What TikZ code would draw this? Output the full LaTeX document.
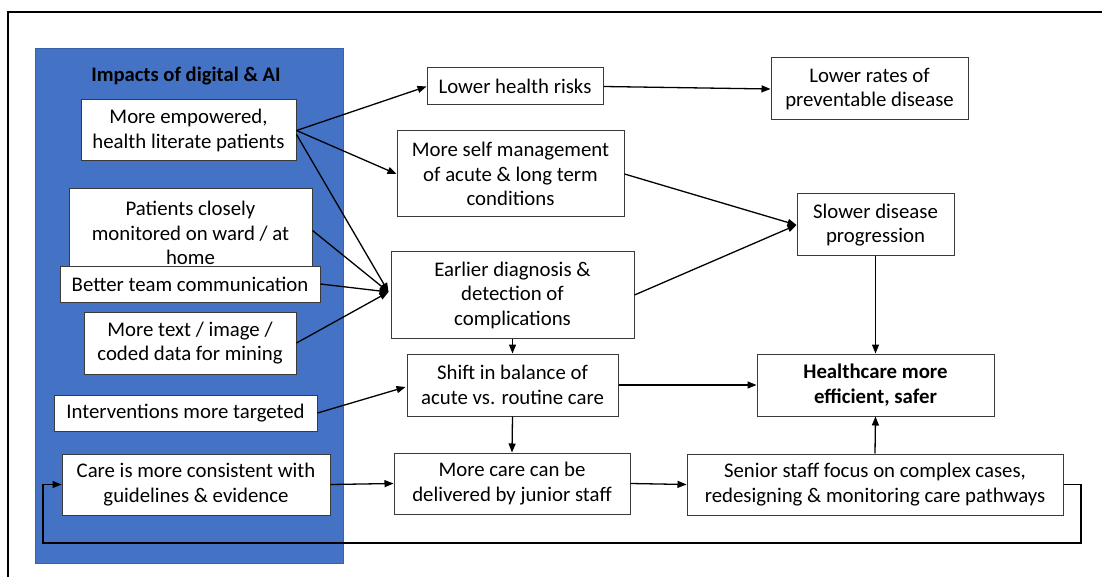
\documentclass[tikz,border=0pt]{standalone}
\usepackage{fontspec}
\setmainfont{Carlito}
\usetikzlibrary{arrows.meta}
\definecolor{panelblue}{HTML}{4472C4}
\definecolor{paneledge}{HTML}{3A62AC}
\definecolor{boxedge}{HTML}{3A3A3A}
\begin{document}
\begin{tikzpicture}[x=1pt,y=-1pt,
  box/.style={draw=boxedge,line width=1pt,fill=white,align=center,inner sep=0pt,
    font=\fontsize{20.8}{24.5}\selectfont},
  conn/.style={line width=1.3pt,-{Triangle[length=9pt,width=7pt]}},
  plain/.style={line width=1.3pt}]
\useasboundingbox (0,0) rectangle (1102,577);
% outer frame
\draw[line width=1.6pt] (8,577) -- (8,12) -- (1102,12);
% blue panel
\node[draw=paneledge,fill=panelblue,line width=1pt,minimum width=308pt,minimum height=514pt,inner sep=0pt] (panel) at (189,306) {};
\node[font=\fontsize{20.6}{24}\selectfont\bfseries] (title) at (186,76) {Impacts of digital \& AI};
% left boxes
\node[box,minimum width=215pt,minimum height=61pt] (b1) at (188.5,130.5) {More empowered,\\health literate patients};
\node[box,minimum width=243pt,minimum height=84pt,anchor=north] (b2) at (190.5,188) {\rule{0pt}{20pt}Patients closely\\monitored on ward / at\\home};
\node[box,minimum width=260pt,minimum height=36pt] (b3) at (190,284) {Better team communication};
\node[box,minimum width=212pt,minimum height=62pt] (b4) at (190,343) {More text / image /\\coded data for mining};
\node[box,minimum width=263pt,minimum height=36pt] (b5) at (185.5,413) {Interventions more targeted};
\node[box,minimum width=268pt,minimum height=61pt] (b6) at (196,484.5) {Care is more consistent with\\guidelines \& evidence};
% middle boxes
\node[box,minimum width=176pt,minimum height=37pt] (lhr) at (515,86.5) {Lower health risks};
\node[box,minimum width=227pt,minimum height=86pt] (sm) at (510.5,174) {More self management\\of acute \& long term\\conditions};
\node[box,minimum width=243pt,minimum height=86pt] (ed) at (512.5,295) {Earlier diagnosis \&\\detection of\\complications};
\node[box,minimum width=211pt,minimum height=62pt] (sh) at (512.5,385) {Shift in balance of\\acute vs. routine care};
\node[box,minimum width=236pt,minimum height=61pt] (jr) at (512,483.5) {More care can be\\delivered by junior staff};
% right boxes
\node[box,minimum width=197pt,minimum height=62pt] (lr) at (869.5,89) {Lower rates of\\preventable disease};
\node[box,minimum width=157pt,minimum height=62pt] (sl) at (875.5,225) {Slower disease\\progression};
\node[box,minimum width=237pt,minimum height=62pt,font=\fontsize{20.8}{24.5}\selectfont\bfseries] (hc) at (875.5,385) {Healthcare more\\efficient, safer};
\node[box,minimum width=376pt,minimum height=61pt] (ss) at (875,484.5) {Senior staff focus on complex cases,\\redesigning \& monitoring care pathways};
% connectors
\coordinate (edin) at ([yshift=3pt,xshift=-2pt]ed.west);
\draw[conn] (b1.east) -- (lhr.west);
\draw[conn] (b1.east) -- (sm.west);
\draw[conn] ([yshift=-4pt]b1.east) -- (edin);
\draw[conn] (b2.east) -- (edin);
\draw[conn] (b3.east) -- (edin);
\draw[conn] (b4.east) -- (edin);
\draw[conn] (b5.east) -- ([yshift=-2pt,xshift=-1pt]sh.west);
\draw[conn] (b6.east) -- (jr.west);
\draw[conn] (lhr.east) -- (lr.west);
\draw[conn] (sm.east) -- (sl.west);
\draw[conn] (ed.east) -- (sl.west);
\draw[conn] (ed.south) -- (sh.north);
\draw[conn] (sh.south) -- (jr.north);
\draw[conn] (sh.east) -- (hc.west);
\draw[conn] (sl.south) -- (hc.north);
\draw[conn] (ss.north) -- (hc.south);
\draw[conn] (jr.east) -- (ss.west);
\coordinate (loopa) at (1081,484.5);
\coordinate (loopb) at (1081,543);
\coordinate (loopc) at (43,543);
\coordinate (loopd) at (43,484.5);
\draw[conn] (ss.east) -- (loopa) -- (loopb) -- (loopc) -- (loopd) -- (b6.west);
\end{tikzpicture}
\end{document}
